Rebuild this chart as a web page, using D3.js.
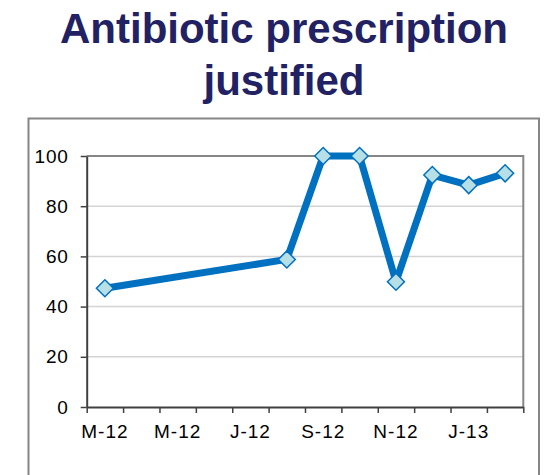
<!DOCTYPE html>
<html lang="en">
<head>
<meta charset="UTF-8">
<title>Antibiotic prescription justified</title>
<script src="https://cdn.jsdelivr.net/npm/d3@7"></script>
<style>
  body { margin: 0; background: #fff; }
  svg text { font-family: "Liberation Sans", Arial, sans-serif; }
</style>
</head>
<body>
<div id="chart"></div>
<script>
// monthly audit results, Mar-12 .. Feb-13 (null = no audit that month)
var months = ["Mar-12","Apr-12","May-12","Jun-12","Jul-12","Aug-12","Sep-12","Oct-12","Nov-12","Dec-12","Jan-13","Feb-13"];
var monthLabels = ["M-12","A-12","M-12","J-12","J-12","A-12","S-12","O-12","N-12","D-12","J-13","F-13"];
var values = [47.3, null, null, null, null, 58.8, 100, 100, 49.9, 92.4, 88.4, 93.1];
var yTicks = [0, 20, 40, 60, 80, 100];
var titleLines = ["Antibiotic prescription", "justified"];

var W = 558, H = 475;
// plot area edges (don't call these top/left: window.top is read-only)
var pLeft = 86.7, pRight = 523.3, pTop = 156, pBottom = 407;

var svg = d3.select("#chart").append("svg")
    .attr("width", W)
    .attr("height", H);

// outer chart frame (runs off the bottom of the picture)
svg.append("rect")
    .attr("x", 28.5).attr("y", 118.5)
    .attr("width", 510.5).attr("height", 400)
    .attr("fill", "none")
    .attr("stroke", "#868686")
    .attr("stroke-width", 2);

// title
svg.append("g").selectAll("text")
    .data(titleLines)
    .enter().append("text")
    .attr("x", 284)
    .attr("y", function(d, i) { return 43 + i * 52; })
    .attr("text-anchor", "middle")
    .attr("font-size", 42)
    .attr("font-weight", "bold")
    .attr("fill", "#212163")
    .text(function(d) { return d; });

var x = d3.scaleBand().domain(months).range([pLeft, pRight]).padding(0);
var xEdge = d3.scaleLinear().domain([0, months.length]).range([pLeft, pRight]);
var y = d3.scaleLinear().domain([0, 100]).range([pBottom, pTop]);

// gridlines
svg.append("g").selectAll("line")
    .data(yTicks.filter(function(d) { return d > 0; }))
    .enter().append("line")
    .attr("x1", pLeft).attr("x2", pRight)
    .attr("y1", function(d) { return y(d); })
    .attr("y2", function(d) { return y(d); })
    .attr("stroke", "#d4d4d4")
    .attr("stroke-width", 1.5);

// plot area border top/right
svg.append("path")
    .attr("d", "M" + pLeft + "," + pTop + "H" + pRight + "V" + pBottom)
    .attr("fill", "none")
    .attr("stroke", "#868686")
    .attr("stroke-width", 2);

// y axis
var yAxis = svg.append("g")
    .attr("transform", "translate(" + pLeft + ",0)")
    .call(d3.axisLeft(y).tickValues(yTicks).tickSize(6).tickPadding(12).tickSizeOuter(0));
yAxis.select(".domain").attr("stroke", "#404040").attr("stroke-width", 2);
yAxis.selectAll(".tick line").attr("stroke", "#404040").attr("stroke-width", 1.5);
yAxis.selectAll(".tick text").attr("font-size", 19).attr("fill", "#000")
    .attr("letter-spacing", 0.8)
    .style("font-family", "'Liberation Sans', Arial, sans-serif");

// x axis tick marks at month boundaries
var xTickAxis = svg.append("g")
    .attr("transform", "translate(0," + pBottom + ")")
    .call(d3.axisBottom(xEdge).tickValues(d3.range(months.length + 1)).tickFormat("").tickSize(6).tickSizeOuter(0));
xTickAxis.select(".domain").attr("stroke", "#404040").attr("stroke-width", 2);
xTickAxis.selectAll(".tick line").attr("stroke", "#404040").attr("stroke-width", 1.5);

// x axis labels, every second month
var xLabelAxis = svg.append("g")
    .attr("transform", "translate(0," + pBottom + ")")
    .call(d3.axisBottom(x).tickSize(0).tickPadding(17.5)
        .tickFormat(function(d, i) { return i % 2 === 0 ? monthLabels[i] : ""; }));
xLabelAxis.select(".domain").remove();
xLabelAxis.selectAll(".tick text").attr("font-size", 19).attr("fill", "#000")
    .attr("letter-spacing", 1)
    .style("font-family", "'Liberation Sans', Arial, sans-serif");

// series
var pts = months.map(function(m, i) { return { m: m, v: values[i] }; })
    .filter(function(d) { return d.v !== null; });

var line = d3.line()
    .x(function(d) { return x(d.m) + x.bandwidth() / 2; })
    .y(function(d) { return y(d.v); });

svg.append("path")
    .datum(pts)
    .attr("d", line)
    .attr("fill", "none")
    .attr("stroke", "#0070c0")
    .attr("stroke-width", 7)
    .attr("stroke-linejoin", "round");

svg.append("g").selectAll("path")
    .data(pts)
    .enter().append("path")
    .attr("transform", function(d) {
        return "translate(" + (x(d.m) + x.bandwidth() / 2) + "," + y(d.v) + ")";
    })
    .attr("d", "M0,-8.5L8.5,0L0,8.5L-8.5,0Z")
    .attr("fill", "#b7dfe6")
    .attr("stroke", "#0070c0")
    .attr("stroke-width", 1.5);
</script>
</body>
</html>
